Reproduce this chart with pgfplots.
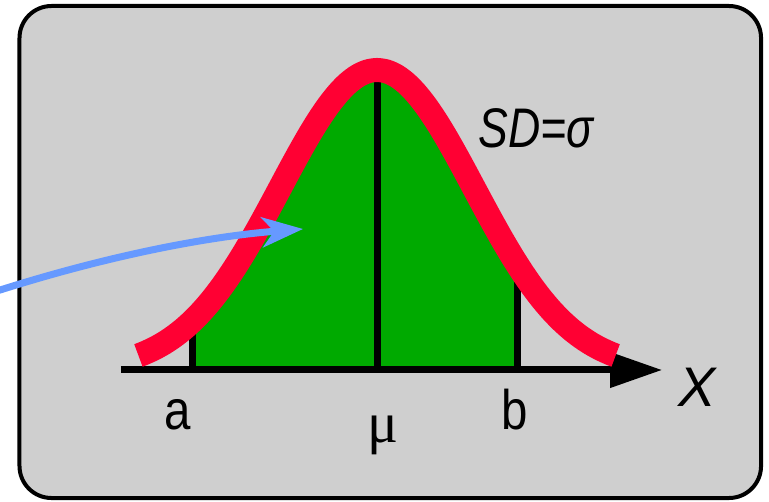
\documentclass[border=0pt]{standalone}
\usepackage{fontspec}
\setmainfont{Liberation Sans}
\newfontfamily\mufont{Liberation Serif}
\usepackage{graphicx}
\usepackage{pgfplots}
\pgfplotsset{compat=1.18}
\usetikzlibrary{arrows.meta}
\definecolor{bggray}{HTML}{CFCFCF}
\definecolor{curvered}{HTML}{FF0033}
\definecolor{areagreen}{HTML}{00AA00}
\definecolor{arrowblue}{HTML}{6699FF}

\begin{document}
\begin{tikzpicture}
\begin{axis}[
  name=ax,
  scale only axis,
  width=769bp, height=502bp,
  xmin=-3.887, xmax=4.041,
  ymin=-0.44, ymax=1.2333,
  axis lines=none,
  clip=false,
]
% background panel
\draw[line width=4bp, rounded corners=32bp, fill=bggray]
  (axis cs:-3.686,-0.4267) rectangle (axis cs:3.959,1.2133);

% area between a and b
\addplot[draw=none, fill=areagreen, smooth] coordinates {
  (-1.90,0.1645) (-1.8,0.1979) (-1.7,0.2357) (-1.6,0.2780) (-1.5,0.3247)
  (-1.4,0.3753) (-1.3,0.4296) (-1.2,0.4868) (-1.1,0.5461) (-1.0,0.6065)
  (-0.9,0.6670) (-0.8,0.7261) (-0.7,0.7827) (-0.6,0.8353) (-0.5,0.8825)
  (-0.4,0.9231) (-0.3,0.9560) (-0.2,0.9802) (-0.1,0.9950) (0,1.0000)
  (0.1,0.9950) (0.2,0.9802) (0.3,0.9560) (0.4,0.9231) (0.5,0.8825)
  (0.6,0.8353) (0.7,0.7827) (0.8,0.7261) (0.9,0.6670) (1.0,0.6065)
  (1.1,0.5461) (1.2,0.4868) (1.3,0.4296) (1.4,0.3753) (1.45,0.3495)
} \closedcycle;

% a, mu, b
\addplot[black, line width=7.5bp] coordinates {(-1.90,0) (-1.90,0.1645)};
\addplot[black, line width=7bp] coordinates {(0,0) (0,1)};
\addplot[black, line width=7.5bp] coordinates {(1.45,0) (1.45,0.3495)};

% x axis
\addplot[black, line width=7bp, -{Triangle[length=52bp,width=34bp]}]
  coordinates {(-2.64,0) (2.94,0)};

% density curve
\addplot[curvered, line width=24bp, smooth] coordinates {
  (-2.46,0.0485) (-2.4,0.0561) (-2.3,0.0710) (-2.2,0.0889) (-2.1,0.1103)
  (-2.0,0.1353) (-1.9,0.1645) (-1.8,0.1979) (-1.7,0.2357) (-1.6,0.2780)
  (-1.5,0.3247) (-1.4,0.3753) (-1.3,0.4296) (-1.2,0.4868) (-1.1,0.5461)
  (-1.0,0.6065) (-0.9,0.6670) (-0.8,0.7261) (-0.7,0.7827) (-0.6,0.8353)
  (-0.5,0.8825) (-0.4,0.9231) (-0.3,0.9560) (-0.2,0.9802) (-0.1,0.9950)
  (0,1.0000) (0.1,0.9950) (0.2,0.9802) (0.3,0.9560) (0.4,0.9231)
  (0.5,0.8825) (0.6,0.8353) (0.7,0.7827) (0.8,0.7261) (0.9,0.6670)
  (1.0,0.6065) (1.1,0.5461) (1.2,0.4868) (1.3,0.4296) (1.4,0.3753)
  (1.5,0.3247) (1.6,0.2780) (1.7,0.2357) (1.8,0.1979) (1.9,0.1645)
  (2.0,0.1353) (2.1,0.1103) (2.2,0.0889) (2.3,0.0710) (2.4,0.0561)
  (2.46,0.0485)
};

% pointer arrow
\draw[arrowblue, line width=7bp, -{Stealth[length=41bp,width=30bp,inset=12bp]}]
  (axis cs:-3.95,0.2600) .. controls (axis cs:-2.835,0.3757)
  and (axis cs:-1.794,0.4433) .. (axis cs:-0.763,0.47);

% labels
\node[anchor=base, font=\fontsize{56}{60}\selectfont] at (axis cs:-2.052,-0.2) {\scalebox{0.85}[1]{a}};
\node[anchor=base, font=\fontsize{56}{60}\selectfont] at (axis cs:1.423,-0.2) {\scalebox{0.85}[1]{b}};
\node[anchor=base, font=\mufont\fontsize{58}{60}\selectfont] at (axis cs:0.062,-0.243) {μ};
\node[anchor=base, font=\fontsize{56}{60}\selectfont\itshape] at (axis cs:3.299,-0.1233) {X};
\node[anchor=base, font=\fontsize{56}{60}\selectfont\itshape] at (axis cs:1.639,0.7433) {\scalebox{0.8}[1]{SD=σ}};
\end{axis}
\pgfresetboundingbox
\path (ax.south west) rectangle (ax.north east);
\end{tikzpicture}
\end{document}
